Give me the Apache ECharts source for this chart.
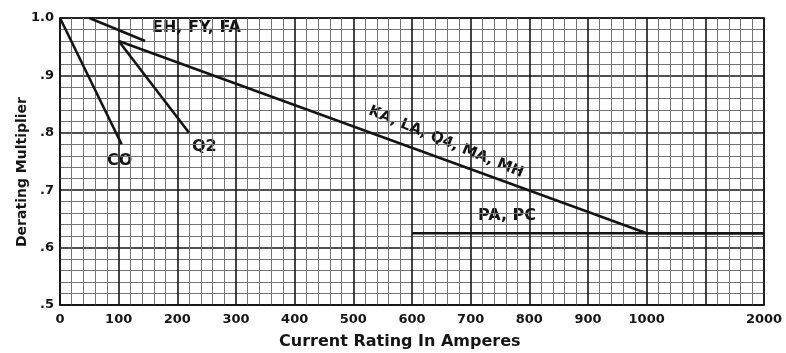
<!DOCTYPE html>
<html>
<head>
<meta charset="utf-8">
<script src="https://cdn.jsdelivr.net/npm/echarts@6/dist/echarts.min.js"></script>
<style>
html, body { margin: 0; padding: 0; background: #fff; }
#chart { width: 786px; height: 353px; }
</style>
</head>
<body>
<div id="chart"></div>
<script>
// 降额曲线 - 数据 (电流 A, 降额系数)
var coAmps = [0, 105];
var coMult = [1.0, 0.78];
var q2Amps = [100, 220];
var q2Mult = [0.96, 0.80];
var ehAmps = [50, 145];
var ehMult = [1.0, 0.96];
var kaAmps = [100, 1000, 2000];
var kaMult = [0.96, 0.625, 0.625];
var paAmps = [600, 2000];
var paMult = [0.625, 0.625];

var xTickLabels = ['0', '100', '200', '300', '400', '500', '600', '700', '800', '900', '1000', '', '2000'];
var yTickLabels = ['.5', '.6', '.7', '.8', '.9', '1.0'];

// 1000以后的刻度压缩: 1000-2000 占两格
function toAxis(a) {
    return a <= 1000 ? a : 1000 + (a - 1000) * 0.2;
}
function pairs(xs, ys) {
    return xs.map(function (x, i) { return [toAxis(x), ys[i]]; });
}

var FONT = 'DejaVu Sans';
var ink = '#141414';

var dom = document.getElementById('chart');
var myChart = echarts.init(dom);

function lineSeries(name, xs, ys) {
    return {
        name: name,
        type: 'line',
        data: pairs(xs, ys),
        symbol: 'none',
        silent: true,
        lineStyle: { color: ink, width: 2.6 }
    };
}

myChart.setOption({
    animation: false,
    backgroundColor: '#fff',
    grid: {
        left: 60,
        right: 22,
        top: 18,
        bottom: 48,
        show: true,
        borderColor: ink,
        borderWidth: 1.5
    },
    xAxis: {
        type: 'value',
        min: 0,
        max: 1200,
        interval: 100,
        axisLine: { show: true, lineStyle: { color: ink, width: 1.5 } },
        axisTick: { show: false },
        axisLabel: {
            margin: 8,
            color: ink,
            fontFamily: FONT,
            fontWeight: 'bold',
            fontSize: 13,
            formatter: function (v) { return xTickLabels[Math.round(v / 100)]; }
        },
        splitLine: { show: true, lineStyle: { color: '#161616', width: 1.6 } },
        minorTick: { show: false, splitNumber: 5 },
        minorSplitLine: { show: true, lineStyle: { color: '#747474', width: 1 } }
    },
    yAxis: {
        type: 'value',
        min: 0.5,
        max: 1.0,
        interval: 0.1,
        axisLine: { show: true, lineStyle: { color: ink, width: 1.5 } },
        axisTick: { show: false },
        axisLabel: {
            margin: 6,
            color: ink,
            fontFamily: FONT,
            fontWeight: 'bold',
            fontSize: 13,
            formatter: function (v) { return yTickLabels[Math.round((v - 0.5) * 10)]; }
        },
        splitLine: { show: true, lineStyle: { color: '#161616', width: 1.6 } },
        minorTick: { show: false, splitNumber: 5 },
        minorSplitLine: { show: true, lineStyle: { color: '#747474', width: 1 } }
    },
    graphic: [
        {
            type: 'text', left: 279, top: 334,
            style: { text: 'Current Rating In Amperes', fill: ink, font: 'bold 16px "DejaVu Sans"' }
        },
        {
            type: 'text', x: 22, y: 172, rotation: Math.PI / 2,
            style: { text: 'Derating Multiplier', fill: ink, font: 'bold 14px "DejaVu Sans"', align: 'center', verticalAlign: 'middle' }
        },
        {
            type: 'text', left: 152, top: 20,
            style: { text: 'EH, FY, FA', fill: ink, font: 'bold 16px "DejaVu Sans"' }
        },
        {
            type: 'text', left: 107, top: 153,
            style: { text: 'CO', fill: ink, font: 'bold 16px "DejaVu Sans"' }
        },
        {
            type: 'text', left: 192, top: 139,
            style: { text: 'Q2', fill: ink, font: 'bold 16px "DejaVu Sans"' }
        },
        {
            type: 'text', x: 446, y: 142, rotation: -0.39,
            style: { text: 'KA, LA, Q4, MA, MH', fill: ink, font: 'bold 15px "DejaVu Sans"', align: 'center', verticalAlign: 'middle' }
        },
        {
            type: 'text', left: 478, top: 208,
            style: { text: 'PA, PC', fill: ink, font: 'bold 16px "DejaVu Sans"' }
        }
    ],
    series: [
        lineSeries('CO', coAmps, coMult),
        lineSeries('Q2', q2Amps, q2Mult),
        lineSeries('EH, FY, FA', ehAmps, ehMult),
        lineSeries('KA, LA, Q4, MA, MH', kaAmps, kaMult),
        lineSeries('PA, PC', paAmps, paMult)
    ]
});
window.addEventListener('resize', function () {
    myChart.resize();
});
</script>
</body>
</html>
